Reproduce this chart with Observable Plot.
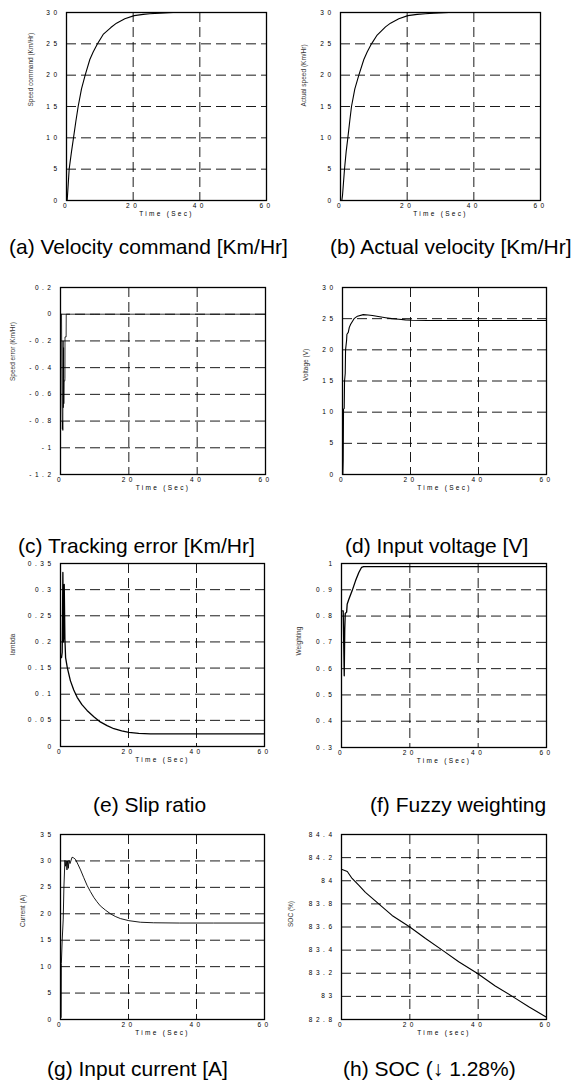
<!DOCTYPE html>
<html><head><meta charset="utf-8">
<script src="https://cdn.jsdelivr.net/npm/d3@7"></script>
<script src="https://cdn.jsdelivr.net/npm/@observablehq/plot@0.6"></script>
<style>
body{margin:0;background:#fff;}
#root{position:relative;width:571px;height:1086px;background:#fff;font-family:"Liberation Sans",Arial,sans-serif;overflow:hidden;}
.panel{position:absolute;}
.cap{position:absolute;font-size:21px;line-height:1;white-space:nowrap;color:#000;}
.panel svg g[aria-label="x-axis tick label"] text,
.panel svg g[aria-label="y-axis tick label"] text{letter-spacing:3.5px;}
</style></head><body><div id="root"></div>
<script>
// ---- data ----
const xTicks = [0, 20, 40, 60];

const tCmd = [0.2, 0.3, 0.8, 1.5, 2.1, 2.8, 3.5, 4.5, 5.6, 7, 8, 9.3, 11, 13.3, 15, 17.5, 20.3, 23, 25, 28, 32, 40, 50, 60];
const vCmd = [0, 0.8, 5, 7.8, 10, 12.6, 15, 17.8, 20, 22.5, 23.7, 25, 26.5, 27.6, 28.3, 29, 29.5, 29.7, 29.8, 29.9, 30, 30, 30, 30];

const tAct = [0.4, 0.6, 1.2, 1.7, 2.2, 2.8, 3.3, 4.3, 5.5, 7, 8, 9.3, 11, 13.5, 15, 17.5, 20.2, 23, 25.5, 28, 32.5, 40, 50, 60];
const vAct = [0, 0.8, 5, 7.8, 10, 12.8, 15, 17.8, 20, 22.5, 23.7, 25, 26.4, 27.7, 28.3, 29, 29.5, 29.7, 29.8, 29.9, 30, 30, 30, 30];

const tErr = [0, 0.3, 0.45, 0.55, 0.62, 0.68, 0.75, 0.82, 0.9, 0.97, 1.05, 1.25, 1.3, 1.32, 1.65, 1.68, 10, 30, 60];
const vErr = [0, 0, -0.65, -0.86, -0.8, -0.87, -0.2, -0.7, -0.25, -0.67, -0.5, -0.5, -0.48, -0.17, -0.17, 0, 0, 0, 0];

const tVolt = [0.1, 0.2, 0.3, 0.5, 0.6, 0.8, 0.9, 1.2, 1.3, 1.7, 2.0, 2.4, 3.4, 4.4, 6.1, 7.5, 8.8, 10.5, 12.7, 14.5, 16.6, 18.5, 20.5, 25, 30, 40, 50, 60];
const vVolt = [0, 2.3, 10.5, 10.6, 15, 16.2, 20, 21.5, 22.5, 22.8, 23.6, 24.1, 25.0, 25.4, 25.65, 25.6, 25.5, 25.35, 25.15, 25.0, 24.9, 24.8, 24.75, 24.7, 24.7, 24.7, 24.7, 24.7];

const tSlip = [0.3, 0.5, 0.7, 0.85, 0.95, 1.1, 1.3, 1.5, 2.0, 2.9, 3.9, 4.9, 6.3, 7.8, 9.8, 11.7, 13.7, 15.7, 18, 20.1, 23, 26.4, 30, 40, 50, 60];
const vSlip = [0.17, 0.18, 0.333, 0.2, 0.21, 0.31, 0.205, 0.17, 0.151, 0.126, 0.108, 0.094, 0.08, 0.069, 0.057, 0.047, 0.04, 0.034, 0.03, 0.027, 0.025, 0.024, 0.024, 0.024, 0.024, 0.024];

const tWeight = [0.3, 0.5, 0.8, 0.95, 1.1, 1.5, 1.66, 2.15, 3.1, 4.1, 5.07, 5.85, 6.5, 8.5, 20, 40, 60];
const vWeight = [0.82, 0.82, 0.573, 0.75, 0.81, 0.815, 0.845, 0.864, 0.896, 0.934, 0.966, 0.985, 0.988, 0.988, 0.988, 0.988, 0.988];

const tCur = [0.2, 0.25, 0.5, 0.8, 1.0, 1.3, 1.5, 1.7, 1.9, 2.1, 2.3, 2.5, 2.8, 3.4, 3.8, 4.4, 5.1, 5.9, 6.8, 7.8, 8.8, 9.8, 10.7, 11.7, 13.2, 14.7, 16.1, 17.6, 20.1, 23.5, 27.4, 35, 45, 60];
const vCur = [0.4, 10.6, 15, 19, 25, 30.1, 29, 30, 28.3, 30, 28.6, 30.1, 29.5, 30.7, 30.6, 30.3, 29.4, 28.3, 26.9, 25.4, 24.2, 23.1, 22.3, 21.5, 20.7, 20.0, 19.5, 19.1, 18.7, 18.4, 18.3, 18.25, 18.25, 18.25];

const tSoc = [0, 1.7, 3.1, 5.1, 7, 10.9, 14.8, 20, 24.6, 29.5, 34.3, 39.7, 45, 50, 54.8, 60];
const vSoc = [84.1, 84.08, 84.02, 83.96, 83.9, 83.8, 83.7, 83.6, 83.5, 83.4, 83.3, 83.2, 83.09, 83.0, 82.91, 82.82];

const ySpeedTicks = [0, 5, 10, 15, 20, 25, 30];
const yErrTicks = [-1.2, -1, -0.8, -0.6, -0.4, -0.2, 0, 0.2];
const yVoltTicks = [0, 5, 10, 15, 20, 25, 30];
const ySlipTicks = [0, 0.05, 0.1, 0.15, 0.2, 0.25, 0.3, 0.35];
const yWeightTicks = [0.3, 0.4, 0.5, 0.6, 0.7, 0.8, 0.9, 1];
const yCurTicks = [0, 5, 10, 15, 20, 25, 30, 35];
const ySocTicks = [82.8, 83, 83.2, 83.4, 83.6, 83.8, 84, 84.2, 84.4];

const yLabels = ["Speed command (Km/Hr)", "Actual speed (Km/Hr)", "Speed error (Km/Hr)", "Voltage (V)", "lambda", "Weighting", "Current (A)", "SOC (%)"];
const xLabels = ["Time (Sec)", "Time (Sec)", "Time (Sec)", "Time (Sec)", "Time (Sec)", "Time (Sec)", "Time (Sec)", "Time (sec)"];
const captions = ["(a) Velocity command [Km/Hr]", "(b) Actual velocity [Km/Hr]", "(c) Tracking error [Km/Hr]", "(d) Input voltage [V]", "(e) Slip ratio", "(f) Fuzzy weighting", "(g) Input current [A]", "(h) SOC (\u2193 1.28%)"];

// ---- layout ----
const panels = [
  {t: tCmd, v: vCmd, ticks: ySpeedTicks, frame: [66, 12, 266, 200], col: 0, ylx: -36, cap: [9, 254], sw: 1.1},
  {t: tAct, v: vAct, ticks: ySpeedTicks, frame: [340, 12, 540, 200], col: 1, ylx: -37, cap: [330, 254], sw: 1.1},
  {t: tErr, v: vErr, ticks: yErrTicks, frame: [60, 287, 265, 474], col: 0, ylx: -48, cap: [18, 553], sw: 0.8},
  {t: tVolt, v: vVolt, ticks: yVoltTicks, frame: [342, 287, 546, 474], col: 1, ylx: -37, cap: [345, 553], sw: 1.1},
  {t: tSlip, v: vSlip, ticks: ySlipTicks, frame: [60, 563, 264, 746], col: 0, ylx: -48, cap: [93, 812], sw: 1.3},
  {t: tWeight, v: vWeight, ticks: yWeightTicks, frame: [341, 563, 546, 747], col: 1, ylx: -43, cap: [370, 812], sw: 1.3},
  {t: tCur, v: vCur, ticks: yCurTicks, frame: [60, 834, 264, 1019], col: 0, ylx: -38, cap: [47, 1076], sw: 0.9},
  {t: tSoc, v: vSoc, ticks: ySocTicks, frame: [341, 834, 546, 1019], col: 1, ylx: -51, cap: [343, 1076], sw: 1.1}
];

const root = document.getElementById("root");
panels.forEach((p, i) => {
  const data = p.t.map((t, k) => ({t, v: p.v[k]}));
  const svgX = p.col === 0 ? 0 : 285;
  const W = p.col === 0 ? 285 : 286;
  const [fl, ft, fr, fb] = p.frame;
  const mTop = 12, mBottom = 28;
  const yDom = [p.ticks[0], p.ticks[p.ticks.length - 1]];
  const dash = {stroke: "#000", strokeOpacity: 1, strokeWidth: 0.9, strokeDasharray: "10,5"};
  const chart = Plot.plot({
    width: W,
    height: (fb - ft) + mTop + mBottom,
    marginLeft: fl - svgX,
    marginRight: svgX + W - fr,
    marginTop: mTop,
    marginBottom: mBottom,
    x: {domain: [0, 60]},
    y: {domain: yDom},
    style: {fontFamily: "'Liberation Sans', Arial, sans-serif", fontSize: "6.5px", color: "#000", background: "transparent", overflow: "visible"},
    marks: [
      Plot.gridX(xTicks.slice(1, -1), dash),
      Plot.gridY(p.ticks.slice(1, -1), dash),
      Plot.line(data, {x: "t", y: "v", stroke: "#000", strokeWidth: p.sw}),
      Plot.frame({stroke: "#000", strokeWidth: 1.3}),
      Plot.axisX({ticks: xTicks, tickSize: 0, tickPadding: 3, label: null, tickFormat: d => String(d)}),
      Plot.axisY({ticks: p.ticks, tickSize: 0, tickPadding: 6, label: null, tickFormat: d => String(d)}),
      Plot.text([yLabels[i]], {frameAnchor: "left", dx: p.ylx, rotate: -90, text: d => d, fill: "#333", fontSize: 6.5}),
      Plot.text([xLabels[i]], {frameAnchor: "bottom", dy: 15, text: d => d, fill: "#000", fontSize: 6.5})
    ]
  });
  // spaced-out lettering of the axis title, as in the reference
  d3.select(chart).selectAll("text").filter(function () { return this.textContent === xLabels[i]; })
    .style("letter-spacing", "2.3px");
  const holder = document.createElement("div");
  holder.className = "panel";
  holder.style.left = svgX + "px";
  holder.style.top = (ft - mTop) + "px";
  holder.appendChild(chart);
  root.appendChild(holder);

  const cap = document.createElement("div");
  cap.className = "cap";
  cap.textContent = captions[i];
  cap.style.left = p.cap[0] + "px";
  cap.style.top = (p.cap[1] - 17.8) + "px";
  root.appendChild(cap);
});
</script></body></html>
